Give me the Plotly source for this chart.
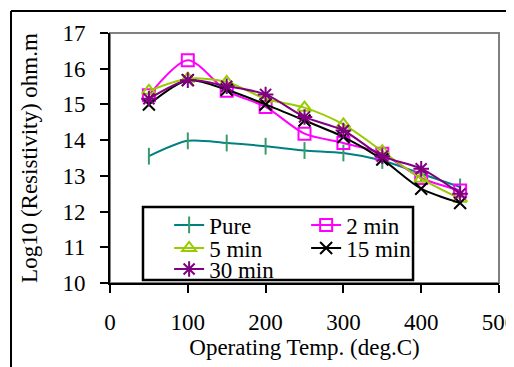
import plotly.graph_objects as go

temps = [50, 100, 150, 200, 250, 300, 350, 400, 450]
pure = [13.55, 13.98, 13.92, 13.83, 13.71, 13.64, 13.43, 13.06, 12.69]
min2 = [15.26, 16.24, 15.38, 14.93, 14.18, 13.92, 13.62, 12.94, 12.59]
min5 = [15.38, 15.72, 15.63, 15.16, 14.91, 14.44, 13.69, 12.92, 12.36]
min15 = [15.00, 15.68, 15.41, 15.00, 14.55, 14.09, 13.46, 12.64, 12.24]
min30 = [15.16, 15.68, 15.51, 15.28, 14.65, 14.27, 13.55, 13.20, 12.50]

series = [
    ("Pure", pure, "#008080", "#3a9a6a", "line-ns-open", 12, "legend"),
    ("2 min", min2, "#FF00FF", "#FF00FF", "square-open", 12, "legend"),
    ("5 min", min5, "#99CC00", "#99CC00", "triangle-up-open", 12, "legend2"),
    ("15 min", min15, "#000000", "#000000", "x-thin-open", 12, "legend2"),
    ("30 min", min30, "#800080", "#800080", "asterisk-open", 13, "legend3"),
]

FONT = "Liberation Serif"
FS = 23
tf = dict(family=FONT, size=FS, color="black")

fig = go.Figure()
for name, vals, lc, mc, sym, sz, lg in series:
    fig.add_trace(go.Scatter(
        x=temps, y=vals, name=name, mode="lines+markers", legend=lg,
        line=dict(color=lc, width=2, shape="spline", smoothing=0.8),
        marker=dict(symbol=sym, size=sz, color=mc, line=dict(color=mc, width=2)),
    ))

def row_legend(y):
    return dict(
        orientation="h", x=0.152, y=y, xanchor="left", yanchor="middle",
        bgcolor="rgba(0,0,0,0)", borderwidth=0,
        entrywidth=92, entrywidthmode="pixels",
        font=tf, tracegroupgap=0, itemwidth=30,
    )

fig.update_layout(
    width=514, height=367,
    margin=dict(l=102, r=23, t=25, b=92),
    paper_bgcolor="white", plot_bgcolor="white",
    font=tf,
    showlegend=True,
    legend=row_legend(0.232),
    legend2=row_legend(0.140),
    legend3=row_legend(0.056),
    xaxis=dict(
        range=[0, 500], tickvals=[0, 100, 200, 300, 400, 500],
        showgrid=False, zeroline=False, showline=True, linecolor="black", linewidth=2,
        ticks="outside", ticklen=8, tickwidth=2, tickcolor="black",
        tickfont=tf, ticklabelstandoff=9, automargin=False,
        title=dict(text="Operating Temp. (deg.C)", standoff=5, font=tf),
    ),
    yaxis=dict(
        range=[10, 17], tickvals=[10, 11, 12, 13, 14, 15, 16, 17],
        showgrid=False, zeroline=False, showline=True, linecolor="black", linewidth=2,
        ticks="outside", ticklen=8, tickwidth=2, tickcolor="black",
        tickfont=tf, ticklabelstandoff=10, automargin=False,
        title=dict(text="Log10 (Resistivity) ohm.m", standoff=18, font=tf),
    ),
    shapes=[
        dict(type="rect", xref="paper", yref="paper", x0=0, x1=1, y0=0, y1=1,
             line=dict(color="#808080", width=2), layer="below"),
        dict(type="rect", xref="paper", yref="paper",
             x0=0.0848, x1=0.779, y0=0.012, y1=0.304,
             line=dict(color="black", width=2.5), fillcolor="white", layer="above"),
        dict(type="line", xref="paper", yref="paper",
             x0=-99/389, x1=1.2, y0=1 + 22/250, y1=1 + 22/250,
             line=dict(color="black", width=2), layer="above"),
        dict(type="line", xref="paper", yref="paper",
             x0=-99/389, x1=-99/389, y0=-0.5, y1=1 + 22/250,
             line=dict(color="black", width=2), layer="above"),
    ],
)

fig.write_html("out.html")
